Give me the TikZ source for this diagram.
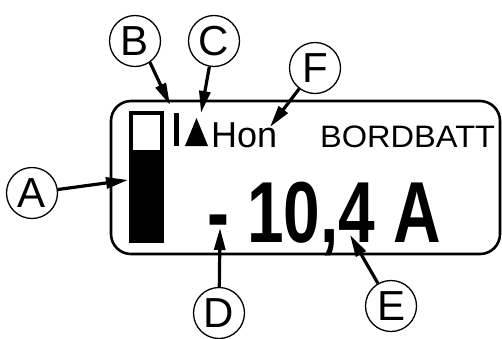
\documentclass[tikz,border=0pt]{standalone}
\usepackage{fontspec}
\setmainfont{Liberation Sans}
\usetikzlibrary{arrows.meta}
\begin{document}
\begin{tikzpicture}[x=1pt,y=-1pt,
  callout/.style={circle,draw,line width=1.3pt,minimum size=51pt,inner sep=0pt,font=\fontsize{42}{44}\selectfont},
  pointer/.style={line width=3.2pt,-{Triangle[length=22pt,width=11pt]}},
  lcdtext/.style={anchor=base west,inner sep=0pt},
]
\useasboundingbox (0,0) rectangle (502,338);
% display frame
\draw[line width=2.6pt,rounded corners=20pt] (111,101) rectangle (500,254);
% battery gauge
\draw[line width=3.5pt] (131,113) rectangle (162,241);
\fill (129,150) rectangle (164,243);
% charge bar and triangle
\fill (174,113) rectangle (179,146);
\fill (185,146) -- (196.5,118) -- (208,146) -- cycle;
% texts
\node[lcdtext,font=\fontsize{36}{40}\selectfont] (hon) at (211,147) {Hon};
\node[lcdtext,font=\fontsize{31}{34}\selectfont] (bord) at (320,147) {\scalebox{1.05}[1]{BORDBATT}};
\node[lcdtext,font=\bfseries\fontsize{86.6}{90}\selectfont] (val) at (207,242) {\scalebox{0.76}[1]{- 10,4 A}};
% callouts
\node[callout] (A) at (32,193) {A};
\node[callout] (B) at (135,41) {B};
\node[callout] (C) at (214,41) {C};
\node[callout] (F) at (315,68) {F};
\node[callout] (D) at (219,313) {D};
\node[callout] (E) at (391,306) {E};
% arrow tips
\coordinate (tA) at (128,180);
\coordinate (tB) at (170,105);
\coordinate (tC) at (201,113);
\coordinate (tF) at (270,127);
\coordinate (tD) at (220,228);
\coordinate (tE) at (350,235);
\draw[pointer] (A) -- (tA);
\draw[pointer] (B.-55) -- (tB);
\draw[pointer] (C) -- (tC);
\draw[pointer] (F) -- (tF);
\draw[pointer] (D) -- (tD);
\draw[pointer] (E) -- (tE);
\end{tikzpicture}
\end{document}
